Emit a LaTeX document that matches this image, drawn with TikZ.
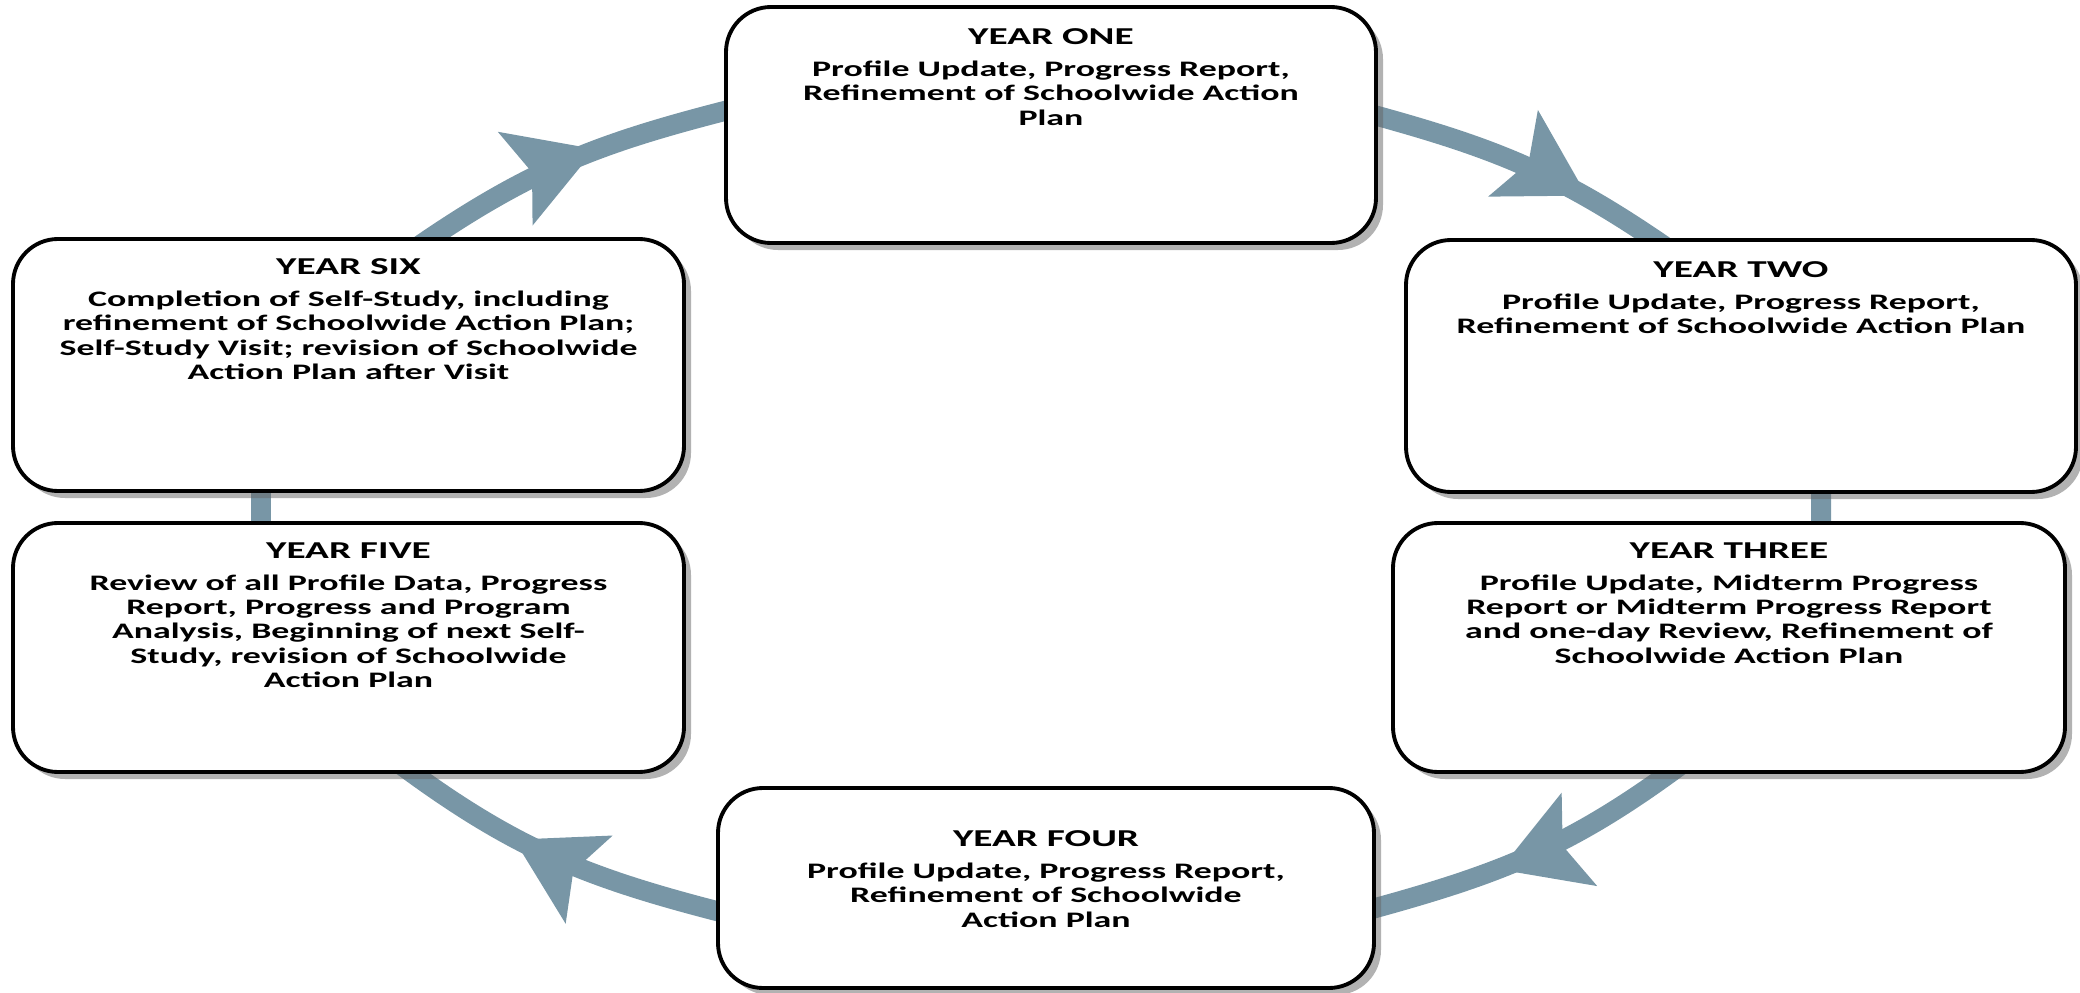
\documentclass[tikz,border=0pt]{standalone}
\usepackage{fontspec}
\newfontfamily\yearfont{Carlito}[FakeStretch=1.62]
\usetikzlibrary{positioning,arrows.meta,decorations.markings,backgrounds,shadows}

\definecolor{cyclegray}{RGB}{120,150,166}

\tikzset{
  yearbox/.style={draw=black, line width=1.1pt, fill=white, rounded corners=4.5mm,
    drop shadow={shadow xshift=0.7mm, shadow yshift=-0.7mm, fill=black!60}},
  yeartext/.style={align=center, inner sep=0pt,
    font=\yearfont\bfseries\fontsize{6.3}{6.9}\selectfont},
  cycleline/.style={draw=cyclegray, line width=2mm, shorten <=-3mm, shorten >=-3mm},
  cyclehead/.style={postaction={decorate, decoration={markings,
      mark=at position #1 with {\arrow[cyclegray]{Stealth[length=8.5mm 0 0, width=10mm 0 0, inset=1.8mm 0 0, line width=0pt 0 0]}}}}},
}
\newcommand{\yeartitle}[1]{{\fontsize{6.9}{6.9}\selectfont #1}\\[2.2pt]}

\begin{document}
\begin{tikzpicture}
  \useasboundingbox (0,0) rectangle (20.8,9.92);

  % the six years
  \node[yearbox, minimum width=6.5cm,  minimum height=2.36cm] (one)   at (10.51,8.67) {};
  \node[yearbox, minimum width=6.7cm,  minimum height=2.52cm] (two)   at (17.41,6.26) {};
  \node[yearbox, minimum width=6.72cm, minimum height=2.49cm] (three) at (17.29,3.445) {};
  \node[yearbox, minimum width=6.56cm, minimum height=2.0cm]  (four)  at (10.46,1.04) {};
  \node[yearbox, minimum width=6.71cm, minimum height=2.49cm] (five)  at (3.485,3.445) {};
  \node[yearbox, minimum width=6.71cm, minimum height=2.52cm] (six)   at (3.485,6.27) {};

  \node[yeartext, below=2.3mm of one.north] (one-t)
    {\yeartitle{YEAR ONE}Profile Update, Progress Report,\\Refinement of Schoolwide Action\\Plan};
  \node[yeartext, below=2.3mm of two.north] (two-t)
    {\yeartitle{YEAR TWO}Profile Update, Progress Report,\\Refinement of Schoolwide Action Plan};
  \node[yeartext, below=2.1mm of three.north] (three-t)
    {\yeartitle{YEAR THREE}Profile Update, Midterm Progress\\Report or Midterm Progress Report\\and one-day Review, Refinement of\\Schoolwide Action Plan};
  \node[yeartext, below=4.4mm of four.north] (four-t)
    {\yeartitle{YEAR FOUR}Profile Update, Progress Report,\\Refinement of Schoolwide\\Action Plan};
  \node[yeartext, below=2.1mm of five.north] (five-t)
    {\yeartitle{YEAR FIVE}Review of all Profile Data, Progress\\Report, Progress and Program\\Analysis, Beginning of next Self-\\Study, revision of Schoolwide\\Action Plan};
  \node[yeartext, below=2.1mm of six.north] (six-t)
    {\yeartitle{YEAR SIX}Completion of Self-Study, including\\refinement of Schoolwide Action Plan;\\Self-Study Visit; revision of Schoolwide\\Action Plan after Visit};

  % the cycle, behind the boxes
  \begin{scope}[on background layer]
    \draw[cycleline, cyclehead=0.58] ([xshift=8.3mm]six.north) to[out=35,in=194] ([yshift=1.4mm]one.west);
    \draw[cycleline, cyclehead=0.74] ([yshift=0.9mm]one.east) to[out=-15,in=145] ([xshift=-8.8mm]two.north);
    \draw[cycleline] ([xshift=8mm]two.south) -- ([xshift=9.2mm]three.north);
    \draw[cycleline, cyclehead=0.6] ([xshift=-6mm]three.south) to[out=217,in=15] ([yshift=-2mm]four.east);
    \draw[cycleline, cyclehead=0.64] ([yshift=-2.3mm]four.west) to[out=166,in=-37] ([xshift=6.45mm]five.south);
    \draw[cycleline] ([xshift=-8.75mm]five.north) -- ([xshift=-8.75mm]six.south);
  \end{scope}
\end{tikzpicture}
\end{document}
